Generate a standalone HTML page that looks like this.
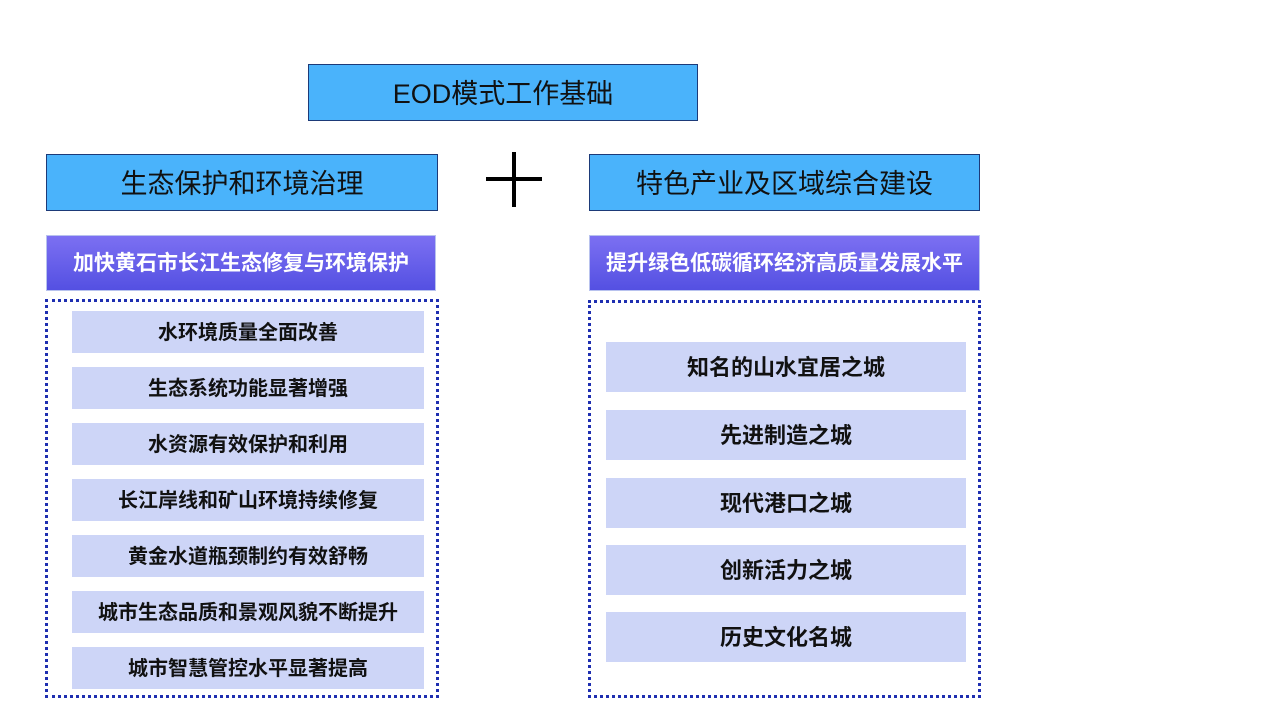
<!DOCTYPE html>
<html><head><meta charset="utf-8"><style>
body{margin:0;width:1280px;height:720px;background:#fff;position:relative;overflow:hidden;font-family:"Liberation Sans","Noto Sans CJK SC",sans-serif}
div{position:absolute;box-sizing:border-box;display:flex;align-items:center;justify-content:center;white-space:nowrap;padding-bottom:3px}
.h{background:#4ab3fb;border:1.5px solid #1d3a78;font-size:27px;color:#111}
.p{background:linear-gradient(#7c70f2,#5450e2);color:#fff;font-weight:bold;font-size:21px;border:1px solid #b8c2ee}
.d{border:3px dotted #1e2eb0}
.i{background:#cdd5f7;font-weight:bold;color:#111;font-size:20px}
.r{font-size:22px}
.pl{background:#000}
</style></head><body>
<div class="h" style="left:308px;top:64px;width:390px;height:57px">EOD模式工作基础</div>
<div class="h" style="left:46px;top:154px;width:392px;height:57px">生态保护和环境治理</div>
<div class="h" style="left:589px;top:154px;width:391px;height:57px">特色产业及区域综合建设</div>
<div class="pl" style="left:486px;top:177px;width:56px;height:4px;padding:0"></div>
<div class="pl" style="left:512px;top:152px;width:4px;height:55px;padding:0"></div>
<div class="p" style="left:46px;top:235px;width:390px;height:56px">加快黄石市长江生态修复与环境保护</div>
<div class="p" style="left:589px;top:235px;width:391px;height:56px">提升绿色低碳循环经济高质量发展水平</div>
<div class="d" style="left:45px;top:299px;width:394px;height:399px"></div>
<div class="d" style="left:588px;top:300px;width:393px;height:398px"></div>
<div class="i" style="left:72px;top:311px;width:352px;height:42px">水环境质量全面改善</div>
<div class="i" style="left:72px;top:367px;width:352px;height:42px">生态系统功能显著增强</div>
<div class="i" style="left:72px;top:423px;width:352px;height:42px">水资源有效保护和利用</div>
<div class="i" style="left:72px;top:479px;width:352px;height:42px">长江岸线和矿山环境持续修复</div>
<div class="i" style="left:72px;top:535px;width:352px;height:42px">黄金水道瓶颈制约有效舒畅</div>
<div class="i" style="left:72px;top:591px;width:352px;height:42px">城市生态品质和景观风貌不断提升</div>
<div class="i" style="left:72px;top:647px;width:352px;height:42px">城市智慧管控水平显著提高</div>
<div class="i r" style="left:606px;top:342px;width:360px;height:50px">知名的山水宜居之城</div>
<div class="i r" style="left:606px;top:410px;width:360px;height:50px">先进制造之城</div>
<div class="i r" style="left:606px;top:478px;width:360px;height:50px">现代港口之城</div>
<div class="i r" style="left:606px;top:545px;width:360px;height:50px">创新活力之城</div>
<div class="i r" style="left:606px;top:612px;width:360px;height:50px">历史文化名城</div>
</body></html>
